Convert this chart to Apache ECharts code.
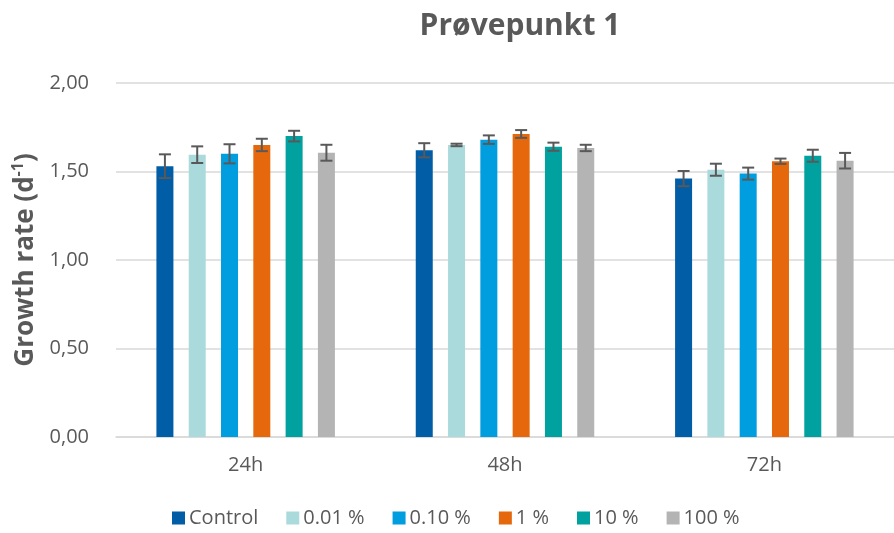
<!DOCTYPE html>
<html>
<head>
<meta charset="utf-8">
<script src="https://cdn.jsdelivr.net/npm/echarts@6/dist/echarts.min.js"></script>
<style>
  html, body { margin: 0; padding: 0; background: #fff; }
  #chart { width: 894px; height: 533px; }
</style>
</head>
<body>
<div id="chart"></div>
<script>
const categories = ['24h', '48h', '72h'];
const seriesNames = ['Control', '0.01 %', '0.10 %', '1 %', '10 %', '100 %'];
const colors = ['#005DA6', '#ABDADC', '#009DDF', '#E5690C', '#00A19F', '#B4B4B5'];

// mean growth rate per series, one value per time point
const control = [1.53, 1.62, 1.46];
const p001 = [1.595, 1.65, 1.51];
const p010 = [1.60, 1.68, 1.488];
const p1 = [1.65, 1.712, 1.558];
const p10 = [1.70, 1.64, 1.589];
const p100 = [1.606, 1.633, 1.561];

// standard deviations (error bar half-heights)
const errControl = [0.067, 0.04, 0.043];
const err001 = [0.047, 0.007, 0.034];
const err010 = [0.054, 0.024, 0.034];
const err1 = [0.035, 0.022, 0.015];
const err10 = [0.03, 0.023, 0.034];
const err100 = [0.045, 0.018, 0.044];

const yTicks = [0, 0.5, 1, 1.5, 2];

const values = [control, p001, p010, p1, p10, p100];
const errors = [errControl, err001, err010, err1, err10, err100];

const font = '"Open Sans", Lato, sans-serif';
const textColor = '#595959';
const barWidth = 17;
const barGapPct = 90;
const pitch = barWidth * (1 + barGapPct / 100);

const chart = echarts.init(document.getElementById('chart'));

const barSeries = seriesNames.map(function (name, i) {
  return {
    name: name,
    type: 'bar',
    data: values[i],
    barWidth: barWidth,
    barGap: barGapPct + '%',
    itemStyle: { color: colors[i] },
    z: 2
  };
});

const errSeries = seriesNames.map(function (name, i) {
  return {
    type: 'custom',
    name: name + ' err',
    data: values[i].map(function (v, k) {
      return [k, v - errors[i][k], v + errors[i][k]];
    }),
    renderItem: function (params, api) {
      const k = api.value(0);
      const lo = api.coord([k, api.value(1)]);
      const hi = api.coord([k, api.value(2)]);
      const x = lo[0] + (i - 2.5) * pitch;
      const cap = 6;
      const style = { stroke: '#595959', lineWidth: 2 };
      return {
        type: 'group',
        children: [
          { type: 'line', shape: { x1: x, y1: lo[1], x2: x, y2: hi[1] }, style: style },
          { type: 'line', shape: { x1: x - cap, y1: lo[1], x2: x + cap, y2: lo[1] }, style: style },
          { type: 'line', shape: { x1: x - cap, y1: hi[1], x2: x + cap, y2: hi[1] }, style: style }
        ]
      };
    },
    encode: { x: 0, y: [1, 2] },
    z: 3,
    silent: true
  };
});

chart.setOption({
  backgroundColor: '#ffffff',
  animation: false,
  title: {
    text: 'Prøvepunkt 1',
    left: 515,
    top: 6,
    textAlign: 'center',
    textStyle: { fontFamily: font, fontSize: 30, fontWeight: 'bold', color: textColor }
  },
  legend: {
    data: seriesNames,
    bottom: 0,
    left: 167,
    icon: 'rect',
    itemWidth: 13,
    itemHeight: 13,
    itemGap: 28,
    itemStyle: { borderWidth: 0 },
    textStyle: { fontFamily: font, fontSize: 20, color: textColor, padding: [0, 0, 0, -1] }
  },
  grid: { left: 116, right: 0, top: 83, bottom: 96 },
  xAxis: {
    type: 'category',
    data: categories,
    axisTick: { show: false },
    axisLine: { lineStyle: { color: '#d9d9d9', width: 1.5 } },
    axisLabel: { fontFamily: font, fontSize: 20, color: textColor, margin: 18 }
  },
  yAxis: {
    type: 'value',
    min: yTicks[0],
    max: yTicks[yTicks.length - 1],
    interval: yTicks[1] - yTicks[0],
    axisLabel: {
      fontFamily: font, fontSize: 20, color: textColor, margin: 27,
      formatter: function (v) { return v.toFixed(2).replace('.', ','); }
    },
    splitLine: { lineStyle: { color: '#d9d9d9', width: 1.5 } },
    name: '{a|Growth rate (d}{s|-1}{a|)}',
    nameLocation: 'middle',
    nameRotate: 90,
    nameGap: 74,
    nameTextStyle: {
      rich: {
        a: { fontFamily: font, fontSize: 26, fontWeight: 'bold', color: textColor, lineHeight: 30 },
        s: { fontFamily: font, fontSize: 16, fontWeight: 'bold', color: textColor, verticalAlign: 'top', lineHeight: 30 }
      }
    }
  },
  series: barSeries.concat(errSeries)
});
</script>
</body>
</html>
